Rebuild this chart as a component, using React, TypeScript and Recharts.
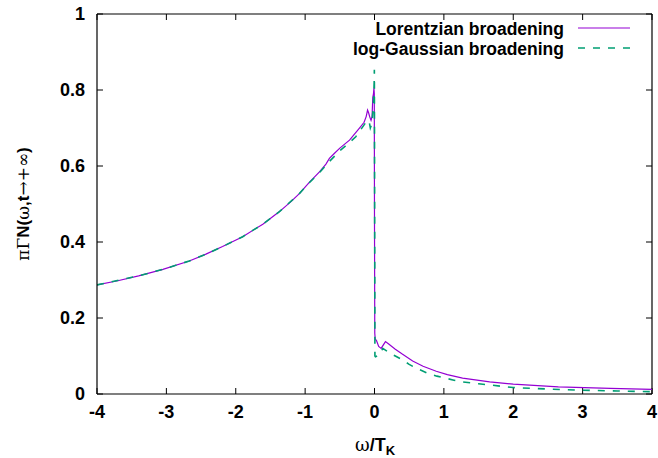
import React from 'react';
import { LineChart, Line, XAxis, YAxis, ReferenceLine } from 'recharts';

const xTicks = [-4, -3, -2, -1, 0, 1, 2, 3, 4];
const yTicks = [0, 0.2, 0.4, 0.6, 0.8, 1];

const lorX = [-4, -3.7, -3.4, -3.05, -2.67, -2.43, -2.19, -1.9, -1.61, -1.37, -1.2, -1.08, -0.94, -0.79, -0.7, -0.65, -0.58, -0.5, -0.36, -0.22, -0.15, -0.12, -0.1, -0.085, -0.07, -0.05, -0.035, -0.025, -0.015, -0.008, -0.003, 0, 0.004, 0.01, 0.03, 0.06, 0.096, 0.13, 0.158, 0.2, 0.3, 0.4, 0.55, 0.7, 0.89, 1.05, 1.27, 1.66, 2, 2.65, 3.4, 4];
const lorY = [0.287, 0.298, 0.311, 0.328, 0.35, 0.368, 0.388, 0.414, 0.447, 0.48, 0.507, 0.528, 0.557, 0.585, 0.605, 0.62, 0.633, 0.647, 0.668, 0.699, 0.715, 0.73, 0.747, 0.74, 0.73, 0.72, 0.73, 0.78, 0.79, 0.805, 0.79, 0.45, 0.16, 0.145, 0.14, 0.125, 0.12, 0.13, 0.138, 0.132, 0.118, 0.105, 0.087, 0.073, 0.06, 0.051, 0.042, 0.032, 0.026, 0.019, 0.015, 0.012];

const gauX = [-4, -3.4, -3.05, -2.67, -2.43, -2.19, -1.9, -1.61, -1.37, -1.08, -0.94, -0.79, -0.65, -0.5, -0.36, -0.27, -0.12, -0.08, -0.06, -0.04, -0.025, -0.012, -0.005, -0.002, 0.002, 0.006, 0.014, 0.04, 0.08, 0.12, 0.2, 0.3, 0.4, 0.5, 0.6, 0.75, 0.9, 1.13, 1.22, 1.5, 2, 2.5, 3, 3.5, 4];
const gauY = [0.287, 0.311, 0.328, 0.35, 0.368, 0.388, 0.414, 0.447, 0.48, 0.528, 0.556, 0.583, 0.612, 0.64, 0.662, 0.677, 0.716, 0.72, 0.7, 0.71, 0.74, 0.78, 0.82, 0.853, 0.5, 0.1, 0.098, 0.1, 0.104, 0.12, 0.11, 0.1, 0.09, 0.078, 0.068, 0.056, 0.047, 0.037, 0.033, 0.027, 0.017, 0.013, 0.01, 0.008, 0.006];

const lorData = lorX.map((x, i) => ({ x, y: lorY[i] }));
const gauData = gauX.map((x, i) => ({ x, y: gauY[i] }));

const PURPLE = '#9400d3';
const GREEN = '#009e73';
const SANS = '"Liberation Sans", Arial, Helvetica, sans-serif';
const SERIF = '"DejaVu Serif", "Liberation Serif", serif';

const W = 658;
const H = 458;
const tickLenX = 6 / 69.4; // x data units ~ 6px
const tickLenY = 6 / 380; // y data units ~ 6px

export default function App() {
  return (
    <div style={{ position: 'absolute', left: 0, top: 0, width: W, height: H, background: '#fff' }}>
      <LineChart width={W} height={H} margin={{ top: 14, right: 6, left: 0, bottom: 0 }}>
        <XAxis
          type="number"
          dataKey="x"
          domain={[-4, 4]}
          ticks={xTicks}
          allowDataOverflow
          tickLine={false}
          tickSize={0}
          tickMargin={11}
          height={64}
          axisLine={{ stroke: '#000', strokeWidth: 1.2 }}
          tick={{ fill: '#000', fontSize: 18, fontWeight: 'bold', fontFamily: SANS }}
        />
        <YAxis
          type="number"
          dataKey="y"
          domain={[0, 1]}
          ticks={yTicks}
          allowDataOverflow
          tickLine={false}
          tickSize={0}
          tickMargin={12}
          width={97}
          axisLine={{ stroke: '#000', strokeWidth: 1.2 }}
          tick={{ fill: '#000', fontSize: 18, fontWeight: 'bold', fontFamily: SANS }}
        />
        <ReferenceLine y={1} stroke="#000" strokeWidth={1.2} />
        <ReferenceLine x={4} stroke="#000" strokeWidth={1.2} />
        {xTicks.map((t) => (
          <ReferenceLine key={'xb' + t} segment={[{ x: t, y: 0 }, { x: t, y: tickLenY }]} stroke="#000" strokeWidth={1} />
        ))}
        {xTicks.map((t) => (
          <ReferenceLine key={'xt' + t} segment={[{ x: t, y: 1 }, { x: t, y: 1 - tickLenY }]} stroke="#000" strokeWidth={1} />
        ))}
        {yTicks.map((t) => (
          <ReferenceLine key={'yl' + t} segment={[{ x: -4, y: t }, { x: -4 + tickLenX, y: t }]} stroke="#000" strokeWidth={1} />
        ))}
        {yTicks.map((t) => (
          <ReferenceLine key={'yr' + t} segment={[{ x: 4, y: t }, { x: 4 - tickLenX, y: t }]} stroke="#000" strokeWidth={1} />
        ))}
        <Line
          data={lorData}
          dataKey="y"
          type="linear"
          stroke={PURPLE}
          strokeWidth={1.2}
          dot={false}
          isAnimationActive={false}
        />
        <Line
          data={gauData}
          dataKey="y"
          type="linear"
          stroke={GREEN}
          strokeWidth={1.6}
          strokeDasharray="7 8"
          dot={false}
          isAnimationActive={false}
        />
      </LineChart>
      <svg width={W} height={H} style={{ position: 'absolute', left: 0, top: 0, pointerEvents: 'none' }}>
        <text x={564} y={35} textAnchor="end" fontFamily={SANS} fontWeight="bold" fontSize={17.5} fill="#000">
          Lorentzian broadening
        </text>
        <line x1={578} y1={28} x2={630} y2={28} stroke={PURPLE} strokeWidth={1.2} />
        <text x={564} y={55} textAnchor="end" fontFamily={SANS} fontWeight="bold" fontSize={17.5} fill="#000">
          log-Gaussian broadening
        </text>
        <line x1={578} y1={48} x2={630} y2={48} stroke={GREEN} strokeWidth={1.6} strokeDasharray="7 8" />
        <text
          x={0}
          y={0}
          transform="translate(29,204) rotate(-90)"
          textAnchor="middle"
          fontSize={17}
          fill="#000"
        >
          <tspan fontFamily={SERIF}>πΓ</tspan>
          <tspan fontFamily={SANS} fontWeight="bold">N(</tspan>
          <tspan fontFamily={SERIF}>ω</tspan>
          <tspan fontFamily={SANS} fontWeight="bold">,t</tspan>
          <tspan fontFamily={SERIF}>→+∞</tspan>
          <tspan fontFamily={SANS} fontWeight="bold">)</tspan>
        </text>
        <text x={375} y={451} textAnchor="middle" fontSize={18} fill="#000">
          <tspan fontFamily={SERIF}>ω</tspan>
          <tspan fontFamily={SANS} fontWeight="bold">/T</tspan>
          <tspan fontFamily={SANS} fontWeight="bold" fontSize={13} dy={4}>K</tspan>
        </text>
      </svg>
    </div>
  );
}
